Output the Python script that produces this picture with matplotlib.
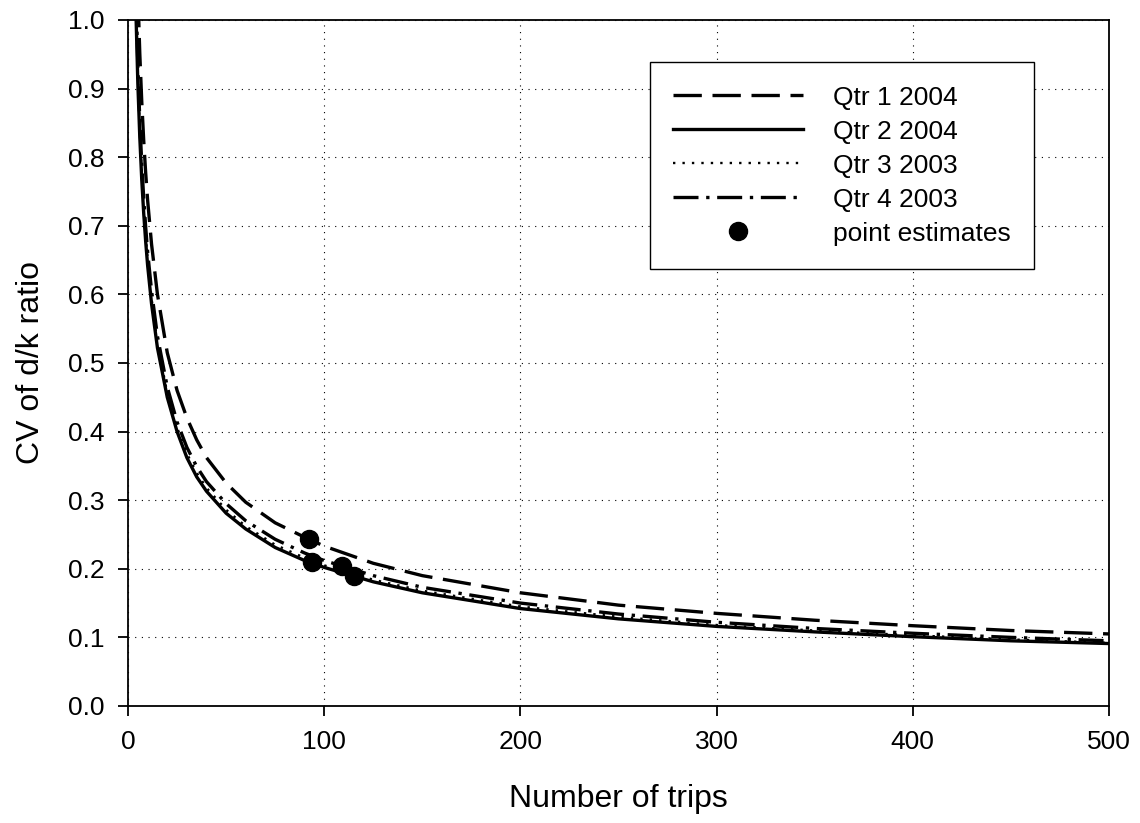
import matplotlib
matplotlib.use('Agg')
import matplotlib.pyplot as plt

plt.rcParams['font.family'] = ['Liberation Sans', 'DejaVu Sans']

# 읽어낸 값 (그림에서 추정)
trips = [4, 5, 6, 7, 8, 9, 10, 12, 15, 20, 25, 30, 35, 40, 50, 60, 75, 90,
         100, 125, 150, 200, 250, 300, 350, 400, 450, 500]
qtr1_2004 = [1.165, 1.042, 0.951, 0.881, 0.824, 0.777, 0.737, 0.673, 0.600, 0.515,
             0.460, 0.420, 0.388, 0.362, 0.325, 0.297, 0.267, 0.246,
             0.233, 0.208, 0.190, 0.165, 0.147, 0.135, 0.125, 0.117, 0.110, 0.105]
qtr2_2004 = [1.015, 0.908, 0.829, 0.767, 0.718, 0.677, 0.642, 0.586, 0.522, 0.450,
             0.400, 0.362, 0.334, 0.313, 0.281, 0.258, 0.231, 0.212,
             0.202, 0.181, 0.165, 0.142, 0.127, 0.116, 0.108, 0.101, 0.095, 0.091]
qtr3_2003 = [1.035, 0.920, 0.840, 0.777, 0.727, 0.686, 0.650, 0.594, 0.529, 0.456,
             0.406, 0.368, 0.340, 0.318, 0.286, 0.262, 0.235, 0.216,
             0.205, 0.184, 0.168, 0.145, 0.130, 0.118, 0.110, 0.103, 0.097, 0.092]
qtr4_2003 = [1.050, 0.935, 0.853, 0.790, 0.740, 0.698, 0.662, 0.605, 0.539, 0.465,
             0.414, 0.377, 0.349, 0.327, 0.295, 0.270, 0.243, 0.223,
             0.212, 0.190, 0.173, 0.150, 0.134, 0.122, 0.113, 0.106, 0.100, 0.095]

point_trips = [92, 94, 109, 115]
point_cv = [0.243, 0.210, 0.204, 0.190]

fig = plt.figure(figsize=(11.4, 8.23), dpi=100)
ax = fig.add_axes([0.1123, 0.1422, 0.8605, 0.8335])

ax.plot(trips, qtr1_2004, color='black', lw=2.4, linestyle=(0, (8.5, 3.2)), label='Qtr 1 2004')
ax.plot(trips, qtr2_2004, color='black', lw=2.4, linestyle='-', label='Qtr 2 2004')
ax.plot(trips, qtr3_2003, color='black', lw=1.7, linestyle=(0, (1, 3)), label='Qtr 3 2003')
ax.plot(trips, qtr4_2003, color='black', lw=2.4, linestyle=(0, (7.5, 2.3, 1, 2.3)), label='Qtr 4 2003')
ax.plot(point_trips, point_cv, 'o', color='black', markersize=13, label='point estimates', zorder=5)

ax.set_xlim(0, 500)
ax.set_ylim(0, 1.0)
ax.set_xticks([0, 100, 200, 300, 400, 500])
ax.set_yticks([i / 10 for i in range(11)])
ax.set_yticklabels([f'{i / 10:.1f}' for i in range(11)])
ax.grid(True, color='black', linestyle=(0, (1, 5)), linewidth=0.8)
ax.set_axisbelow(True)

for s in ax.spines.values():
    s.set_linewidth(1.3)
ax.tick_params(axis='both', direction='out', length=7, width=1.3, labelsize=19)
ax.tick_params(axis='x', pad=10)
ax.tick_params(axis='y', pad=10)

ax.set_xlabel('Number of trips', fontsize=23, labelpad=22)
ax.set_ylabel('CV of d/k ratio', fontsize=23, labelpad=16)

leg = ax.legend(loc='upper right', bbox_to_anchor=(0.924, 0.939), borderaxespad=0,
                fontsize=19, handlelength=4.9, handletextpad=1.15, labelspacing=0.38,
                fancybox=False, framealpha=1, edgecolor='black', borderpad=0.9)
leg.get_frame().set_linewidth(1.0)

fig.savefig('out.png', dpi=100)
